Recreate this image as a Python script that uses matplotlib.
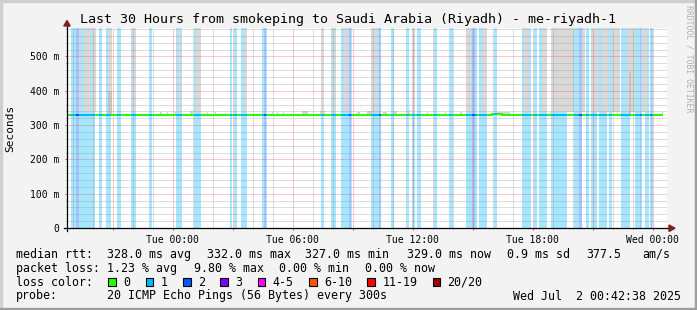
import matplotlib
matplotlib.use("Agg")
import matplotlib.pyplot as plt
import numpy as np
from matplotlib.patches import Rectangle, Polygon
from matplotlib.lines import Line2D

W, H = 697, 310
MONO = "DejaVu Sans Mono"

# time axis: hours relative to Tue 00:00, 30 h window ending Wed 00:42:38
t_start = -5.2894
t_end = 24.7106
t_last = 24.51
y_top = 583

xtick_pos = [0, 6, 12, 18, 24]
xtick_lab = ["Tue 00:00", "Tue 06:00", "Tue 12:00", "Tue 18:00", "Wed 00:00"]
ytick_pos = [0, 100, 200, 300, 400, 500]
ytick_lab = ["0", "100 m", "200 m", "300 m", "400 m", "500 m"]

# median rtt (ms), step values
median_t = [t_start, 15.96, 16.45]
median_v = [328, 332, 328]

# intervals (h) with 1/20 loss and 2/20 loss
loss1 = [(-5.08, -3.88), (-3.69, -3.54), (-3.34, -3.08), (-2.79, -2.59), (-2.09, -1.84),
         (-1.19, -1.04), (0.16, 0.46), (1.05, 1.41), (2.85, 2.96), (3.05, 3.21),
         (3.41, 3.71), (4.46, 4.71), (7.41, 7.56), (7.91, 8.16), (8.41, 8.96),
         (9.91, 10.41), (10.93, 11.05), (11.66, 11.80), (11.96, 12.13), (12.21, 12.41),
         (13.05, 13.21), (13.83, 14.01), (14.66, 15.21), (15.33, 15.71), (16.05, 16.21),
         (17.46, 17.91), (18.05, 18.21), (18.33, 18.71), (18.93, 19.71), (20.05, 20.46),
         (20.66, 20.80), (20.93, 21.21), (21.30, 21.71), (21.80, 21.96), (22.43, 22.88),
         (23.13, 23.46), (23.61, 23.80), (23.86, 24.00)]
loss2 = [(-4.84, -4.71), (4.55, 4.66), (8.83, 8.91), (10.30, 10.41), (14.96, 15.13),
         (20.33, 20.46), (23.36, 23.43), (23.90, 23.95)]

# smoke: tall columns reaching past the top, from ~338 ms
smoke_tall = [(-4.69, -4.59), (-4.44, -4.14), (-4.04, -3.84), (-3.24, -3.06), (-2.06, -1.84),
              (0.26, 0.41), (1.16, 1.41), (3.55, 3.71), (7.41, 7.56), (7.96, 8.10),
              (8.55, 8.83), (9.91, 10.21), (11.96, 12.11), (14.66, 14.91), (15.46, 15.71),
              (17.55, 17.80), (18.46, 18.71), (18.93, 20.05), (20.46, 20.63), (20.96, 21.30),
              (21.46, 21.80), (21.96, 22.38), (22.71, 23.13), (23.46, 23.71)]
smoke_mid = [(-3.24, -3.06, 400), (22.80, 22.90, 455)]
smoke_small = [(-2.76, -2.70, 340), (-0.64, -0.54, 338), (-0.31, -0.26, 338), (0.09, 0.14, 338),
               (0.86, 1.01, 342), (1.71, 1.76, 338), (2.11, 2.16, 338), (2.61, 2.66, 336),
               (4.96, 5.01, 338), (5.21, 5.26, 338), (5.51, 5.56, 338), (6.46, 6.76, 341),
               (7.36, 7.61, 340), (9.21, 9.36, 338), (9.71, 10.01, 341), (10.51, 10.71, 339),
               (11.01, 11.21, 340), (11.71, 11.86, 345), (12.71, 12.76, 338), (13.61, 13.66, 338),
               (14.36, 14.46, 338), (15.51, 15.71, 340), (16.16, 16.86, 338), (18.46, 18.51, 340),
               (18.86, 18.91, 338), (20.36, 20.41, 345), (21.11, 21.16, 340), (21.51, 21.71, 342),
               (22.21, 22.26, 340), (22.86, 22.91, 338), (23.26, 23.31, 340), (24.46, 24.51, 337)]

loss_labels = ["0", "1", "2", "3", "4-5", "6-10", "11-19", "20/20"]
loss_colors = ["#26ff00", "#00b8ff", "#0059ff", "#7e00ff", "#ff00ff", "#ff5500", "#ff0000", "#a10000"]
bg_colors = {1: "#a6e6ff", 2: "#a6c5ff"}

stats_rtt = [(16, "median rtt:"), (107, "328.0 ms avg"), (207, "332.0 ms max"), (305, "327.0 ms min"),
             (407, "329.0 ms now"), (507, "0.9 ms sd"), (586, "377.5"), (642, "am/s")]
stats_loss = [(16, "packet loss:"), (107, "1.23 % avg"), (194, "9.80 % max"),
              (279, "0.00 % min"), (365, "0.00 % now")]
probe_txt = "20 ICMP Echo Pings (56 Bytes) every 300s"
date_txt = "Wed Jul  2 00:42:38 2025"
title = "Last 30 Hours from smokeping to Saudi Arabia (Riyadh) - me-riyadh-1"


def fx(px):
    return px / W


def fy(py):
    return 1 - py / H


fig = plt.figure(figsize=(W / 100, H / 100), dpi=100, facecolor="#f3f3f3")
ax = fig.add_axes([fx(67), fy(228), 600 / W, 200 / H])
ax.set_facecolor("white")
ax.set_xlim(t_start, t_end)
ax.set_ylim(0, y_top)

for a, b in loss1:
    ax.axvspan(a, b, color=bg_colors[1], lw=0, zorder=1)
for a, b in loss2:
    ax.axvspan(a, b, color=bg_colors[2], lw=0, zorder=1.1)
for a, b in smoke_tall:
    ax.bar(a, 700 - 338, bottom=338, width=b - a, align="edge", color="#d9d9d9", lw=0, zorder=1.5)
for a, b, top in smoke_mid:
    ax.bar(a, top - 331, bottom=331, width=b - a, align="edge", color="#c4c4c4", lw=0, zorder=1.6)
for a, b, top in smoke_small:
    ax.bar(a, top - 331, bottom=331, width=b - a, align="edge", color="#d4d4d4", lw=0, zorder=1.5)

# grid
ax.set_xticks(np.arange(-3, 25, 3))
ax.set_xticklabels([xtick_lab[xtick_pos.index(t)] if t in xtick_pos else "" for t in np.arange(-3, 25, 3)])
ax.set_xticks(np.arange(-5, 25, 1), minor=True)
ax.set_yticks(ytick_pos)
ax.set_yticklabels(ytick_lab)
ax.set_yticks(np.arange(0, y_top, 20), minor=True)
ax.grid(which="major", color="#de5050", alpha=0.6, lw=0.72, ls=(0, (1, 1)), zorder=2)
ax.grid(which="minor", color="#8f8f8f", alpha=0.6, lw=0.72, ls=(0, (1, 1)), zorder=2)
ax.set_axisbelow(False)
ax.tick_params(which="major", length=1.5, width=0.72, color="#de5050", labelsize=7, pad=3.5)
ax.tick_params(which="minor", length=1.0, width=0.72, color="#8f8f8f")
ax.tick_params(axis="y", which="major", pad=4)
for lab in ax.get_xticklabels() + ax.get_yticklabels():
    lab.set_fontfamily(MONO)
for s in ax.spines.values():
    s.set_visible(False)


# median line coloured by loss
def loss_at(t):
    if any(a <= t < b for a, b in loss2):
        return 2
    if any(a <= t < b for a, b in loss1):
        return 1
    return 0


def med_at(t):
    v = median_v[0]
    for tt, vv in zip(median_t, median_v):
        if t >= tt:
            v = vv
    return v


edges = sorted(set([t_start, t_last] + [e for iv in loss1 + loss2 for e in iv] + median_t[1:]))
edges = [e for e in edges if t_start <= e <= t_last]
for a, b in zip(edges[:-1], edges[1:]):
    m = (a + b) / 2
    ax.plot([a, b], [med_at(m)] * 2, color=loss_colors[loss_at(m)], lw=1.44,
            solid_capstyle="butt", zorder=4)
for i in range(1, len(median_t)):
    ax.plot([median_t[i]] * 2, [median_v[i - 1], median_v[i]], color=loss_colors[loss_at(median_t[i])],
            lw=1.44, zorder=4)

# axes lines + arrows
ax.add_line(Line2D([-3 / 600, 605 / 600], [0, 0], transform=ax.transAxes, color="black", lw=0.9, clip_on=False, zorder=5))
ax.add_line(Line2D([0, 0], [-3 / 200, 205 / 200], transform=ax.transAxes, color="black", lw=0.9, clip_on=False, zorder=5))
arrow_c = "#801f1f"
fig.patches.append(Polygon([(fx(669), fy(225)), (fx(669), fy(231.5)), (fx(675), fy(228.2))],
                           closed=True, color=arrow_c, transform=fig.transFigure))
fig.patches.append(Polygon([(fx(63.8), fy(26)), (fx(70.2), fy(26)), (fx(67), fy(20.5))],
                           closed=True, color=arrow_c, transform=fig.transFigure))

# frame shade
fig.patches.append(Rectangle((0, 1 - 2 / H), 1, 2 / H, color="#cfcfcf", transform=fig.transFigure))
fig.patches.append(Rectangle((0, 0), 2 / W, 1, color="#cfcfcf", transform=fig.transFigure))
fig.patches.append(Rectangle((0, 0), 1, 2.5 / H, color="#9e9e9e", transform=fig.transFigure))
fig.patches.append(Rectangle((1 - 2.5 / W, 0), 2.5 / W, 1, color="#9e9e9e", transform=fig.transFigure))

# texts
fig.text(fx(347.5), fy(19.5), title, ha="center", va="center", fontsize=9.6, family=MONO)
fig.text(fx(10), fy(128), "Seconds", rotation=90, ha="center", va="center", fontsize=8, family=MONO)
fig.text(fx(689), fy(5), "RRDTOOL / TOBI OETIKER", rotation=270, ha="center", va="top",
         fontsize=5.9, family=MONO, color="#b0b0b0")

fs = 8.4
for x, s in stats_rtt:
    fig.text(fx(x), fy(254.3), s, ha="left", va="center", fontsize=fs, family=MONO)
for x, s in stats_loss:
    fig.text(fx(x), fy(268.3), s, ha="left", va="center", fontsize=fs, family=MONO)
fig.text(fx(16), fy(282.3), "loss color:", ha="left", va="center", fontsize=fs, family=MONO)
bx = 108.3
for lab, col in zip(loss_labels, loss_colors):
    fig.patches.append(Rectangle((fx(bx), fy(286)), 7.6 / W, 7.6 / H, facecolor=col, edgecolor="black",
                                 lw=0.8, transform=fig.transFigure))
    fig.text(fx(bx + 15), fy(282.3), lab, ha="left", va="center", fontsize=fs, family=MONO)
    bx += 30.4 + len(lab) * 6.97
fig.text(fx(16), fy(296), "probe:", ha="left", va="center", fontsize=fs, family=MONO)
fig.text(fx(107), fy(296), probe_txt, ha="left", va="center", fontsize=fs, family=MONO)
fig.text(fx(513), fy(296), date_txt, ha="left", va="center", fontsize=fs, family=MONO)

fig.savefig("out.png", dpi=100, facecolor=fig.get_facecolor())
